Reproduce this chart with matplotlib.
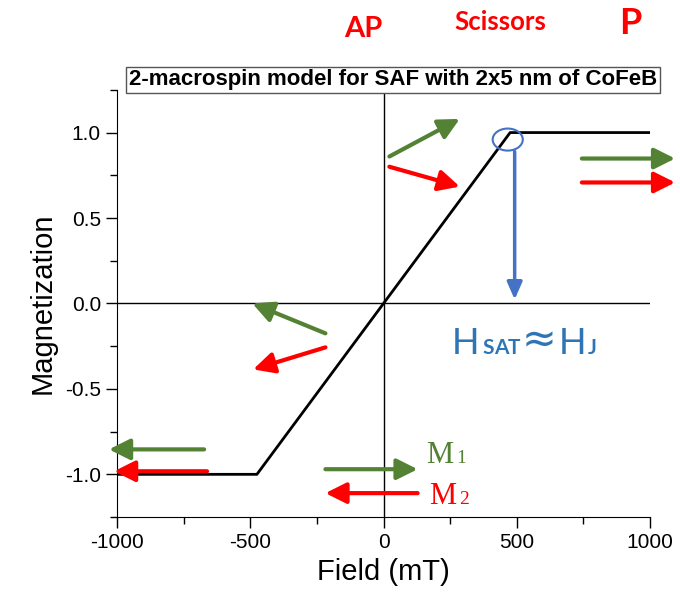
import matplotlib
matplotlib.use("Agg")
import matplotlib.pyplot as plt
from matplotlib.ticker import MultipleLocator
from matplotlib.patches import Ellipse

# curve data (field in mT, normalized magnetization)
field = [-1000, -475, 475, 1000]
magnetization = [-1.0, -1.0, 1.0, 1.0]

# spin arrows: (tail_x, tail_y, head_x, head_y, color)
GREEN = '#548235'
RED = '#FF0000'
BLUE = '#4472C4'
spin_arrows = [
    (22, 0.86, 286, 1.08, GREEN),
    (22, 0.80, 286, 0.684, RED),
    (744, 0.848, 1094, 0.848, GREEN),
    (744, 0.708, 1094, 0.708, RED),
    (-218, -0.175, -492, 0.0, GREEN),
    (-218, -0.257, -489, -0.386, RED),
    (-673, -0.854, -1030, -0.854, GREEN),
    (-662, -0.982, -1011, -0.982, RED),
    (-218, -0.97, 128, -0.97, GREEN),
    (128, -1.11, -218, -1.11, RED),
]

plt.rcParams['font.family'] = 'Liberation Sans'
plt.rcParams['axes.unicode_minus'] = False

fig = plt.figure(figsize=(6.8, 5.95), dpi=100)
ax = fig.add_axes([0.172, 0.131, 0.784, 0.718])

ax.plot(field, magnetization, color='black', lw=2.0, solid_joinstyle='round', zorder=3)
ax.axhline(0, color='black', lw=1.0, zorder=1)
ax.axvline(0, color='black', lw=1.0, zorder=1)

for x0, y0, x1, y1, c in spin_arrows:
    ax.annotate('', xy=(x1, y1), xytext=(x0, y0), annotation_clip=False,
                arrowprops=dict(arrowstyle='-|>,head_length=0.9,head_width=0.45',
                                color=c, lw=3, shrinkA=0, shrinkB=0,
                                mutation_scale=14))

# saturation marker
ax.add_patch(Ellipse((466, 0.959), 113, 0.129, fill=False, ec=BLUE, lw=1.5, zorder=4))
ax.annotate('', xy=(492, 0.023), xytext=(492, 0.889), annotation_clip=False,
            arrowprops=dict(arrowstyle='-|>,head_length=0.8,head_width=0.35',
                            color=BLUE, lw=2.5, shrinkA=0, shrinkB=0,
                            mutation_scale=13))

ax.set_xlim(-1000, 1000)
ax.set_ylim(-1.25, 1.25)
ax.xaxis.set_major_locator(MultipleLocator(500))
ax.xaxis.set_minor_locator(MultipleLocator(250))
ax.yaxis.set_major_locator(MultipleLocator(0.5))
ax.yaxis.set_minor_locator(MultipleLocator(0.25))
ax.yaxis.set_major_formatter(plt.FuncFormatter(lambda v, p: f'{v:.1f}'))
ax.tick_params(which='major', direction='out', length=8, width=1, labelsize=15)
ax.tick_params(which='minor', direction='out', length=5, width=1)
ax.spines['top'].set_visible(False)
ax.spines['right'].set_visible(False)
ax.set_xlabel('Field (mT)', fontsize=21, labelpad=4)
ax.set_ylabel('Magnetization', fontsize=21, labelpad=6)


def px(x, y):
    return x / 680, 1 - y / 595


fig.text(*px(393, 80), '2-macrospin model for SAF with 2x5 nm of CoFeB',
         ha='center', va='center', fontsize=16, fontweight='bold',
         bbox=dict(boxstyle='square,pad=0.12', fc='white', ec='#555555', lw=1))

fig.text(*px(363, 37), 'AP', color=RED, fontsize=21, fontweight='bold',
         family='Lato', ha='center', va='baseline')
fig.text(*px(500, 30), 'Scissors', color=RED, fontsize=18.5, fontweight='bold',
         family='Lato', ha='center', va='baseline')
fig.text(*px(630, 34), 'P', color=RED, fontsize=26, fontweight='bold',
         family='Lato', ha='center', va='baseline')

HBLUE = '#2E75B6'
fig.text(*px(452, 354), 'H', color=HBLUE, fontsize=26, family='Lato', va='baseline')
for ch, xp in zip('SAT', (482, 494, 508)):
    fig.text(*px(xp, 354), ch, color=HBLUE, fontsize=15, family='Lato',
             fontweight='bold', va='baseline')
fig.text(*px(522, 352), '\u2248', color=HBLUE, fontsize=30, family='DejaVu Sans', va='baseline')
fig.text(*px(559, 354), 'H', color=HBLUE, fontsize=26, family='Lato', va='baseline')
fig.text(*px(588, 354), 'J', color=HBLUE, fontsize=15, family='Lato',
         fontweight='bold', va='baseline')

fig.text(*px(426, 463), 'M', color=GREEN, fontsize=22, family='Liberation Serif', va='baseline')
fig.text(*px(456, 463), '1', color=GREEN, fontsize=14, family='Liberation Serif', va='baseline')
fig.text(*px(429, 504), 'M', color=RED, fontsize=22, family='Liberation Serif', va='baseline')
fig.text(*px(459, 504), '2', color=RED, fontsize=14, family='Liberation Serif', va='baseline')

fig.savefig('out.png', dpi=100)
